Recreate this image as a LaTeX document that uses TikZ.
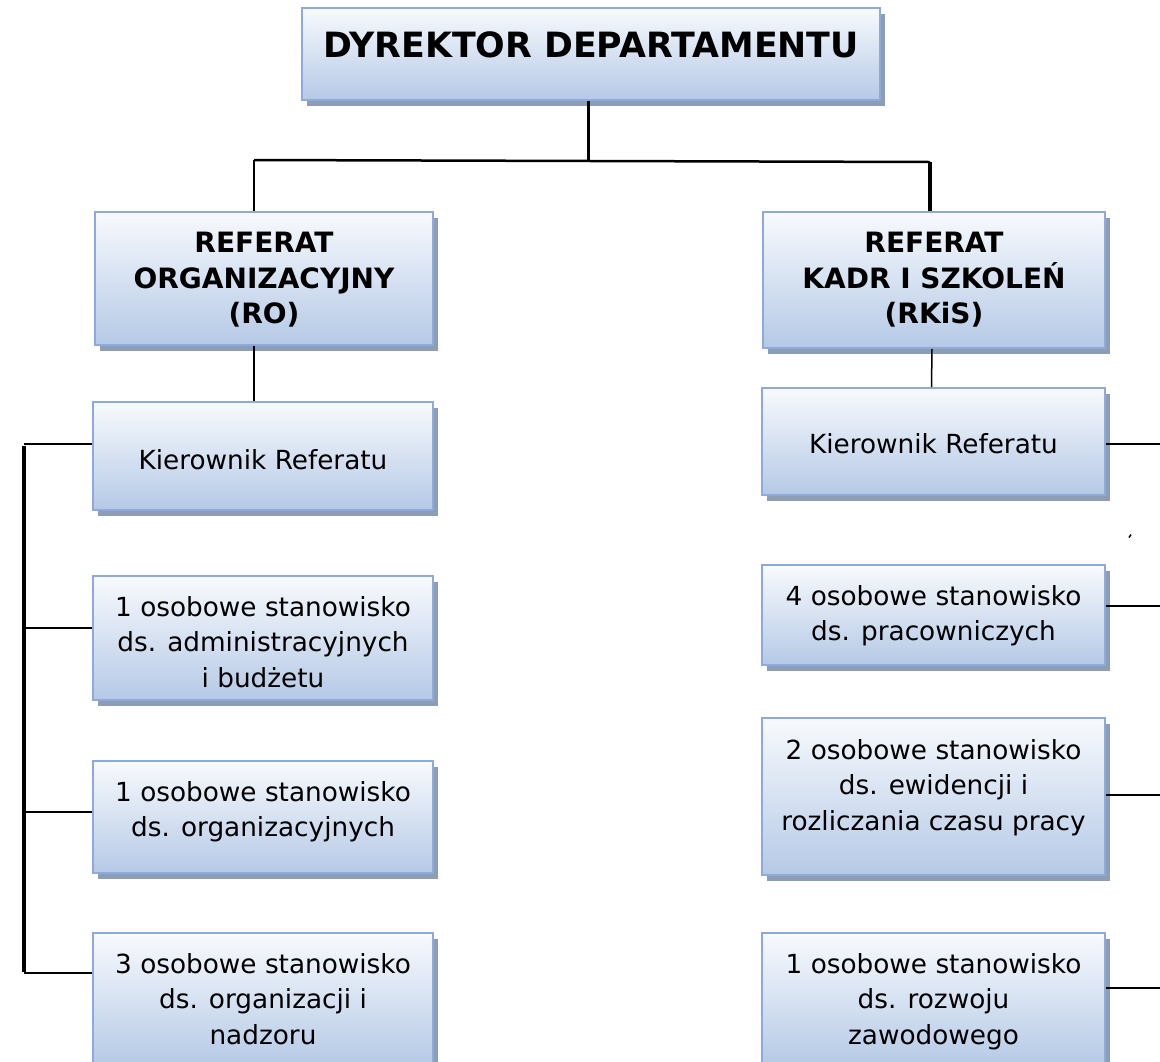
\documentclass[tikz,border=0pt]{standalone}
\usepackage{fontspec}
\setmainfont{DejaVu Sans}
\usetikzlibrary{shadows}
\definecolor{boxedge}{HTML}{8EAADC}
\definecolor{boxfill}{HTML}{B5C9E6}
\definecolor{boxtop}{HTML}{F8FAFD}
\definecolor{boxshade}{HTML}{8D9DB6}

\begin{document}
\begin{tikzpicture}[x=1pt, y=-1pt,
    box/.style={draw=boxedge, line width=2pt, top color=boxtop, bottom color=boxfill,
      drop shadow={shadow xshift=4.5pt, shadow yshift=-5.5pt, fill=boxshade, opacity=1}, inner sep=0pt},
    txt/.style={anchor=north, align=center, inner sep=0pt, font=\fontsize{26.3}{35.5}\selectfont},
    head/.style={txt, font=\fontsize{28}{35.5}\selectfont\bfseries},
    link/.style={line width=1.5pt},
    bus/.style={line width=3.5pt}]
    \useasboundingbox (0,0) rectangle (1160,1061);

    % Director
    \node[box, minimum width=578, minimum height=92] (dyr) at (591,54) {};
    \node[head, font=\fontsize{34.8}{40}\selectfont\bfseries] (dyr-t) at (591,31) {DYREKTOR DEPARTAMENTU};

    % Sections
    \node[box, minimum width=338, minimum height=133] (ro) at (264,278.5) {};
    \node[head] (ro-t) at (264,232) {REFERAT\\ORGANIZACYJNY\\(RO)};
    \node[box, minimum width=342, minimum height=136] (rk) at (934,280) {};
    \node[head] (rk-t) at (934,232) {REFERAT\\KADR I SZKOLEŃ\\(RKiS)};

    % Heads of sections
    \node[box, minimum width=340, minimum height=108] (roK) at (263,456) {};
    \node[txt] (roK-t) at (263,449) {Kierownik Referatu};
    \node[box, minimum width=343, minimum height=107] (rkK) at (933.5,441.5) {};
    \node[txt] (rkK-t) at (933.5,433) {Kierownik Referatu};

    % Posts RO
    \node[box, minimum width=340, minimum height=124] (ro1) at (263,638) {};
    \node[txt] (ro1-t) at (263,596) {1 osobowe stanowisko\\ds. administracyjnych\\i budżetu};
    \node[box, minimum width=340, minimum height=112] (ro2) at (263,817) {};
    \node[txt] (ro2-t) at (263,781) {1 osobowe stanowisko\\ds. organizacyjnych};
    \node[box, minimum width=340, minimum height=133] (ro3) at (263,999.5) {};
    \node[txt] (ro3-t) at (263,953) {3 osobowe stanowisko\\ds. organizacji i\\nadzoru};

    % Posts RKiS
    \node[box, minimum width=343, minimum height=100] (rk1) at (933.5,615) {};
    \node[txt] (rk1-t) at (933.5,585) {4 osobowe stanowisko\\ds. pracowniczych};
    \node[box, minimum width=343, minimum height=157] (rk2) at (933.5,796.5) {};
    \node[txt] (rk2-t) at (933.5,739) {2 osobowe stanowisko\\ds. ewidencji i\\rozliczania czasu pracy};
    \node[box, minimum width=343, minimum height=133] (rk3) at (933.5,999.5) {};
    \node[txt] (rk3-t) at (933.5,953) {1 osobowe stanowisko\\ds. rozwoju\\zawodowego};

    % Top connectors
    \coordinate (mid) at (588,160);
    \coordinate (busL) at (254,160);
    \coordinate (busR) at (930,162);
    \draw[line width=3pt] (mid |- dyr.south) -- (mid);
    \draw[line width=2.5pt] (busL) -- (busR);
    \draw[line width=2pt] (busL) -- (busL |- ro.north);
    \draw[line width=4pt] (busR) -- (busR |- rk.north);
    \draw[link] (busL |- ro.south) -- (busL |- roK.north);
    \draw[link] ([xshift=-2pt]rk.south) -- ([xshift=-2pt]rkK.north);

    % Left bus
    \coordinate (b1) at (24,444);
    \coordinate (b2) at (24,628);
    \coordinate (b3) at (24,812);
    \coordinate (b4) at (24,973);
    \draw[bus] ([yshift=-1.5pt]b1) -- ([yshift=1.5pt]b4);
    \draw[link] (b1) -- (b1 -| roK.west);
    \draw[link] (b2) -- (b2 -| ro1.west);
    \draw[link] (b3) -- (b3 -| ro2.west);
    \draw[link] (b4) -- (b4 -| ro3.west);

    % Right branches
    \coordinate (r1) at (1165,444);
    \coordinate (r2) at (1165,606);
    \coordinate (r3) at (1165,795);
    \coordinate (r4) at (1165,988);
    \draw[link] (rkK.east |- r1) -- (r1);
    \draw[link] (rk1.east |- r2) -- (r2);
    \draw[link] (rk2.east |- r3) -- (r3);
    \draw[link] (rk3.east |- r4) -- (r4);
    \draw[line width=1.5pt] (1129,537.5) -- (1131,534.5);
\end{tikzpicture}
\end{document}
